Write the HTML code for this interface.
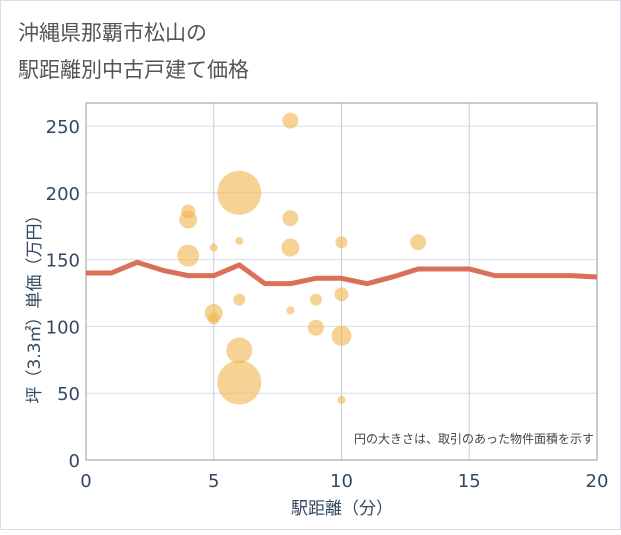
<!DOCTYPE html>
<html><head><meta charset="utf-8"><style>
body{margin:0;background:#fff}
svg text{font-family:"DejaVu Sans","Noto Sans CJK JP",sans-serif}
</style></head><body>
<svg width="621" height="530">
<rect x="0.5" y="0.5" width="620" height="529" fill="#fff" stroke="#d6dde8"/>
<text x="18" y="40" font-size="21" fill="#555">沖縄県那覇市松山の</text>
<text x="18" y="77" font-size="21" fill="#555">駅距離別中古戸建て価格</text>
<g id="plot"></g>
<text x="594" y="443" font-size="12" fill="#444" text-anchor="end">円の大きさは、取引のあった物件面積を示す</text>
<text x="342" y="514" font-size="17" fill="#34495e" text-anchor="middle">駅距離（分）</text>
<text transform="translate(40,305) rotate(-90)" font-size="17" fill="#34495e" text-anchor="middle">坪（3.3㎡）単価（万円）</text>
</svg>
<script>
const xTicks=[0,5,10,15,20];
const yTicks=[0,50,100,150,200,250];
const bubbleX=[8,6,4,4,8,6,5,8,4,10,13,6,8,9,10,5,5,9,10,6,6,10];
const bubbleY=[254,200,186,180,181,164,159,159,153,163,163,120,112,120,124,110,106,99,93,82,58,45];
const bubbleR=[8,22,7,9,8,4,4,9,11,6,8,6,4,6,7,9,6,8,10,13,22,4];
const lineX=[0,1,2,3,4,5,6,7,8,9,10,11,12,13,14,15,16,17,18,19,20];
const lineY=[140,140,148,142,138,138,146,132,132,136,136,132,137,143,143,143,138,138,138,138,137];
const L=86,R=597,T=103,B=460;
const xs=v=>L+(v-0)/20*(R-L);
const ys=v=>B-v/250*(B-126);
const ns="http://www.w3.org/2000/svg";
const g=document.getElementById('plot');
function mk(t,a){const e=document.createElementNS(ns,t);for(const k in a)e.setAttribute(k,a[k]);g.appendChild(e);return e;}
yTicks.forEach(v=>{
 const l=mk('line',{x1:L,x2:R,y1:ys(v),y2:ys(v),stroke:'#d4e0ec','stroke-width':1});
 
 
 const t=mk('text',{x:L-6,y:ys(v)+7,'font-size':18,fill:'#34495e','text-anchor':'end'});t.textContent=v;
 
 
});
xTicks.forEach(v=>{
 const l=mk('line',{x1:xs(v),x2:xs(v),y1:T,y2:B,stroke:'#c8cdd4','stroke-width':1});
 
 
 const t=mk('text',{x:xs(v),y:B+27,'font-size':18,fill:'#34495e','text-anchor':'middle'});t.textContent=v;
 
 
});
const fr=mk('rect',{x:L,y:T,width:R-L,height:B-T,fill:'none',stroke:'#999','stroke-width':1});


bubbleX.forEach((x,i)=>{
 const c=mk('circle',{cx:xs(x),cy:ys(bubbleY[i]),r:bubbleR[i],fill:'#f0b44c','fill-opacity':0.6});
 
 
});
const p=mk('polyline',{points:lineX.map((x,i)=>xs(x)+','+ys(lineY[i])).join(' '),fill:'none',stroke:'#d9705a','stroke-width':5,'stroke-linejoin':'round'});


</script>
</body></html>
